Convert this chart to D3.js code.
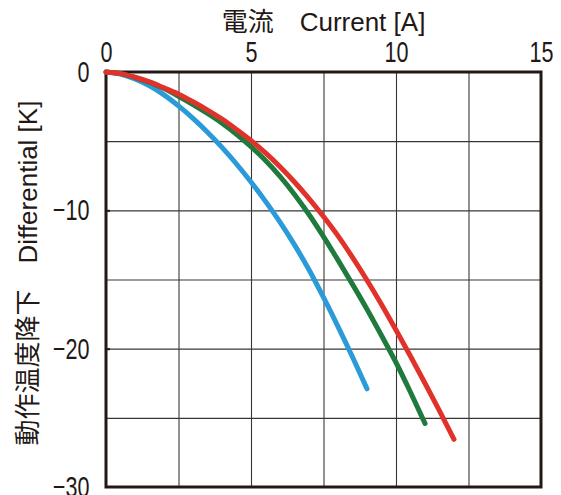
<!DOCTYPE html>
<html>
<head>
<meta charset="utf-8">
<script src="https://cdn.jsdelivr.net/npm/d3@7"></script>
<style>
  body { margin: 0; background: #fff; }
  svg { display: block; }
</style>
</head>
<body>
<div id="chart" style="width:561px;height:495px"></div>
<script>
// current [A], sampled every 0.5 A
const currents = [0, 0.5, 1, 1.5, 2, 2.5, 3, 3.5, 4, 4.5, 5, 5.5, 6, 6.5, 7, 7.5, 8, 8.5, 9, 9.5, 10, 10.5, 11, 11.5, 12];
// temperature differential [K]
const blueValues = [0, -0.15, -0.5, -1.0, -1.65, -2.45, -3.35, -4.35, -5.45, -6.65, -7.95, -9.35, -10.85, -12.5, -14.3, -16.3, -18.4, -20.6, -22.9];
const greenValues = [0, -0.12, -0.4, -0.75, -1.2, -1.75, -2.35, -3.0, -3.7, -4.5, -5.4, -6.4, -7.55, -8.85, -10.3, -11.9, -13.6, -15.35, -17.15, -19.05, -21.0, -23.15, -25.4];
const redValues = [0, -0.12, -0.38, -0.72, -1.15, -1.6, -2.15, -2.75, -3.4, -4.15, -4.95, -5.85, -6.85, -7.95, -9.15, -10.45, -11.85, -13.4, -15.05, -16.8, -18.65, -20.55, -22.5, -24.5, -26.55];

const xTicks = [0, 5, 10, 15];
const yTicks = [0, -10, -20, -30];
const xGrid = [2.5, 5, 7.5, 10, 12.5];
const yGrid = [-5, -10, -15, -20, -25];

const series = [
  {name: "blue", values: blueValues, color: "#2b9ad8"},
  {name: "green", values: greenValues, color: "#1f7a3e"},
  {name: "red", values: redValues, color: "#e0322a"}
];

const container = document.getElementById("chart");
const margin = {top: 72, right: 20, bottom: 8, left: 106};
const width = 561 - margin.left - margin.right;
const height = 495 - margin.top - margin.bottom;

const svg = d3.select(container)
  .append("svg")
  .attr("width", 561)
  .attr("height", 495);

const g = svg.append("g")
  .attr("transform", `translate(${margin.left},${margin.top})`);

const x = d3.scaleLinear().domain([0, 15]).range([0, width]);
const y = d3.scaleLinear().domain([0, -30]).range([0, height]);

const ink = "#231815";
const tickFont = "'Liberation Sans', Arial, sans-serif";
const titleFont = "'Liberation Sans', 'Noto Sans CJK JP', sans-serif";

// grid
g.append("g")
  .call(d3.axisTop(x).tickValues(xGrid).tickSize(-height).tickFormat(""))
  .call(s => s.select(".domain").remove())
  .selectAll("line").attr("stroke", "#3b3636").attr("stroke-width", 1.1);

g.append("g")
  .call(d3.axisLeft(y).tickValues(yGrid).tickSize(-width).tickFormat(""))
  .call(s => s.select(".domain").remove())
  .selectAll("line").attr("stroke", "#3b3636").attr("stroke-width", 1.1);

// tick labels, squeezed horizontally to get the condensed look
const xAxis = g.append("g")
  .call(d3.axisTop(x).tickValues(xTicks).tickSize(0).tickPadding(10).tickFormat(d3.format("d")));
xAxis.select(".domain").remove();
xAxis.selectAll("text")
  .attr("font-family", tickFont)
  .attr("font-size", 30)
  .attr("transform", "scale(0.72,1)")
  .attr("fill", ink);

const yAxis = g.append("g")
  .call(d3.axisLeft(y).tickValues(yTicks).tickSize(0).tickPadding(23).tickFormat(d => d < 0 ? "\u2212" + Math.abs(d) : d));
yAxis.select(".domain").remove();
yAxis.selectAll("text")
  .attr("font-family", tickFont)
  .attr("font-size", 30)
  .attr("transform", "scale(0.72,1)")
  .attr("fill", ink);

// short inward ticks on the left edge
g.append("g")
  .call(d3.axisRight(y).tickValues([-10, -20]).tickSize(4).tickFormat(""))
  .call(s => s.select(".domain").remove())
  .selectAll("line").attr("stroke", ink).attr("stroke-width", 2);

// frame
g.append("rect")
  .attr("x", 0)
  .attr("y", 0)
  .attr("width", width)
  .attr("height", height)
  .attr("fill", "none")
  .attr("stroke", ink)
  .attr("stroke-width", 3);

// curves
const line = d3.line()
  .x((d, i) => x(currents[i]))
  .y(d => y(d))
  .curve(d3.curveMonotoneX);

g.selectAll(".curve")
  .data(series)
  .enter()
  .append("path")
  .attr("class", "curve")
  .attr("d", d => line(d.values))
  .attr("fill", "none")
  .attr("stroke", d => d.color)
  .attr("stroke-width", 5)
  .attr("stroke-linecap", "round")
  .attr("stroke-linejoin", "round");

// titles
svg.append("text")
  .attr("x", margin.left + width / 2)
  .attr("y", 31)
  .attr("text-anchor", "middle")
  .attr("font-family", titleFont)
  .attr("font-size", 26)
  .attr("fill", ink)
  .text("電流\u3000Current [A]");

svg.append("text")
  .attr("transform", "translate(37,273) rotate(-90)")
  .attr("text-anchor", "middle")
  .attr("font-family", titleFont)
  .attr("font-size", 26)
  .attr("fill", ink)
  .text("動作温度降下\u3000Differential [K]");
</script>
</body>
</html>
